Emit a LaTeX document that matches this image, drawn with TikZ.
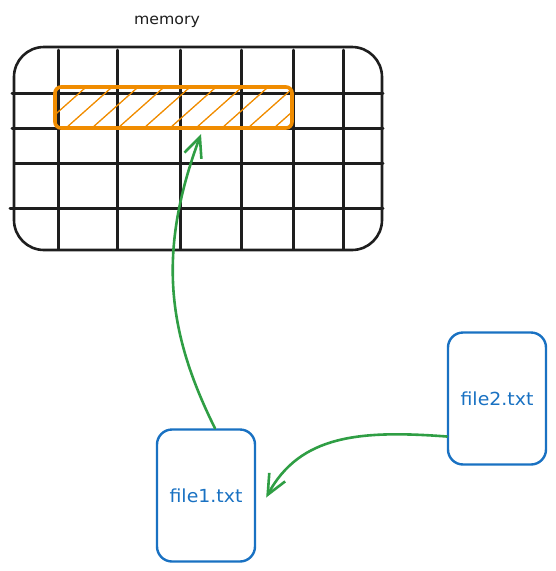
\documentclass[tikz,border=0pt]{standalone}
\usepackage{fontspec}
\setmainfont{DejaVu Sans}[FakeStretch=1.05]
\usepackage{xcolor}
\definecolor{skblack}{HTML}{1E1E1E}
\definecolor{skblue}{HTML}{1971C2}
\definecolor{skgreen}{HTML}{2F9E44}
\definecolor{skorange}{HTML}{F08C00}
\usetikzlibrary{arrows.meta, positioning}

\tikzset{
  filebox/.style={draw=skblue, line width=2.4pt, rounded corners=15pt, text=skblue,
    minimum width=98pt, minimum height=132pt, font=\fontsize{18}{20}\selectfont},
  gridline/.style={draw=skblack, line width=3pt, line cap=round},
  flow/.style={draw=skgreen, line width=2.6pt, line cap=round,
    -{Straight Barb[length=20pt, width=18pt, line width=2.6pt]}}
}

\begin{document}
\begin{tikzpicture}[x=1pt, y=-1pt]
  \useasboundingbox (0,0) rectangle (555,571);

  % Memory
  \node[font=\fontsize{15}{17}\selectfont, text=skblack] (title) at (167,22) {memory};
  \node[draw=skblack, line width=2.6pt, rounded corners=30pt, minimum width=368pt, minimum height=203pt] (mem) at (198,148.5) {};
  \foreach \x in {58,117,180,241,293,343}
    \draw[gridline] (\x,50) -- (\x,249);
  \foreach \y/\xa in {93/12,128/12,163/15,208/10}
    \draw[gridline] (\xa,\y) -- (383,\y);

  % Loaded block
  \begin{scope}
    \clip[rounded corners=5pt] (55,87) rectangle (292,128);
    \foreach \x in {40,66,...,300}
      \draw[skorange, line width=1.3pt] (\x,128) -- ++(45,-40);
  \end{scope}
  \node[draw=skorange, line width=3.6pt, rounded corners=6pt, minimum width=237pt, minimum height=41pt] (block) at (173.5,107.5) {};
  \coordinate (slot) at (201,134);

  % Files
  \node[filebox] (file1) at (206,495.5) {file1.txt};
  \node[filebox] (file2) at (497,398.5) {file2.txt};

  % Arrows
  \draw[flow] ([xshift=9pt]file1.north) .. controls (166,330) and (158,250) .. (slot);
  \draw[flow] ([yshift=-38pt]file2.west) .. controls (360,430) and (300,435) .. ([xshift=10pt,yshift=-2pt]file1.east);
\end{tikzpicture}
\end{document}
